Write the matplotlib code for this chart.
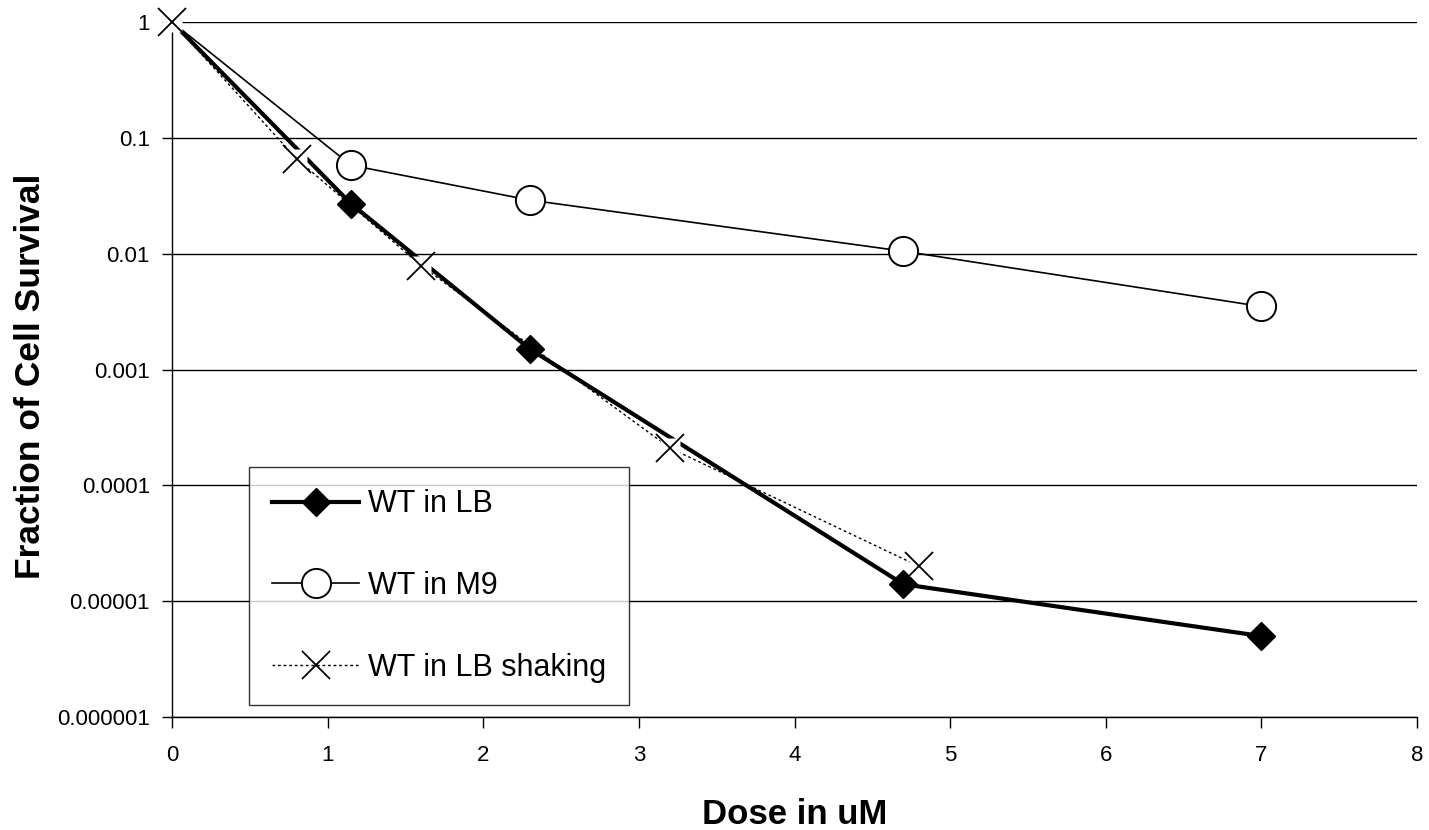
import matplotlib
matplotlib.use("Agg")
import matplotlib.pyplot as plt
from matplotlib.ticker import FixedLocator, FixedFormatter, NullLocator

plt.rcParams['font.family'] = ['Liberation Sans', 'DejaVu Sans']

# data
dose_lb = [0, 1.15, 2.3, 4.7, 7.0]
surv_lb = [1.0, 0.027, 0.0015, 0.000014, 0.000005]

dose_m9 = [0, 1.15, 2.3, 4.7, 7.0]
surv_m9 = [1.0, 0.058, 0.029, 0.0105, 0.0035]

dose_shake = [0, 0.8, 1.6, 3.2, 4.8]
surv_shake = [1.0, 0.066, 0.0079, 0.00021, 0.00002]

y_ticks = [1, 0.1, 0.01, 0.001, 0.0001, 0.00001, 0.000001]
y_labels = ["1", "0.1", "0.01", "0.001", "0.0001", "0.00001", "0.000001"]
x_ticks = list(range(0, 9))

fig = plt.figure(figsize=(14.29, 8.30), dpi=100)
ax = fig.add_axes([0.1204, 0.1361, 0.8712, 0.8374])

ax.set_yscale('log')
ax.set_xlim(0, 8)
ax.set_ylim(0.000001, 1)

for v in y_ticks:
    ax.axhline(v, color='black', lw=1.0, zorder=1)

ax.plot(dose_lb, surv_lb, color='black', lw=3.0, marker='D', ms=14,
        markevery=[1, 2, 3, 4], label='WT in LB', zorder=3, clip_on=False)
ax.plot(dose_m9, surv_m9, color='black', lw=1.2, marker='o', ms=21,
        mfc='white', mec='black', mew=1.4, markevery=[1, 2, 3, 4],
        label='WT in M9', zorder=4, clip_on=False)
# white knockout behind the x markers
ax.plot(dose_shake, surv_shake, ls='none', marker='s', ms=15, mfc='white',
        mec='none', zorder=5, clip_on=False)
ax.plot(dose_shake, surv_shake, color='black', lw=1.0, ls=(0, (2, 2)),
        zorder=2, clip_on=False)
ax.plot(dose_shake, surv_shake, ls='none', marker='x', ms=20, mec='black',
        mew=1.3, zorder=6, clip_on=False)
shake_handle, = ax.plot([], [], color='black', lw=1.0, ls=(0, (2, 2)),
                        marker='x', ms=20, mec='black', mew=1.3,
                        label='WT in LB shaking')

for side in ['top', 'right']:
    ax.spines[side].set_visible(False)
ax.spines['left'].set_linewidth(1.0)
ax.spines['bottom'].set_linewidth(1.0)

ax.yaxis.set_major_locator(FixedLocator(y_ticks))
ax.yaxis.set_major_formatter(FixedFormatter(y_labels))
ax.yaxis.set_minor_locator(NullLocator())
ax.set_xticks(x_ticks)
ax.tick_params(axis='both', direction='out', width=1.0, labelsize=16,
               colors='black')
ax.tick_params(axis='y', length=7, pad=9)
ax.tick_params(axis='x', length=8, pad=12)

ax.set_xlabel('Dose in uM', fontsize=25, fontweight='bold', labelpad=23)
ax.set_ylabel('Fraction of Cell Survival', fontsize=25.5, fontweight='bold')
ax.yaxis.set_label_coords(-0.114, 0.4906)
ax.yaxis.label.set_va('center')

handles, labels = ax.get_legend_handles_labels()
leg = ax.legend(handles, labels, loc='lower left',
                bbox_to_anchor=(0.062, 0.017), borderaxespad=0,
                fontsize=22, frameon=True, fancybox=False, edgecolor='black',
                handlelength=2.86, handletextpad=0.28, labelspacing=1.69,
                borderpad=0.74)
leg.get_frame().set_linewidth(1.0)
leg.set_zorder(10)

fig.savefig('out.png', dpi=100)
